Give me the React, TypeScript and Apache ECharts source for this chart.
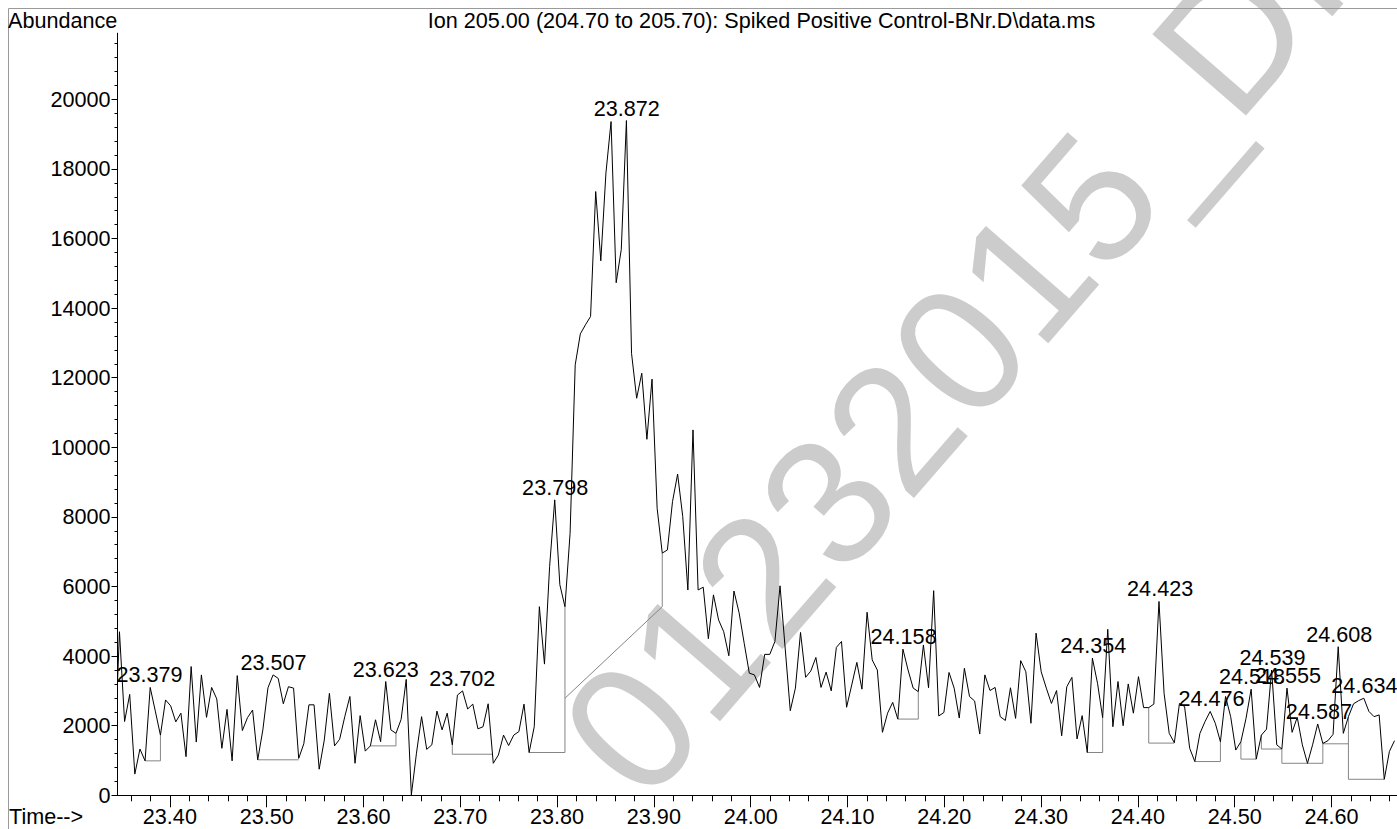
import React, { useEffect, useRef } from "react";
import * as echarts from "echarts";

// ---------- data ----------
// time of the first stored scan (lies just left of the visible axis) and scan spacing, minutes
const firstScanTime = 23.34264;
const scanInterval = 0.00529;

// abundance of every scan
const abundance = [
  900,
  4700, 2120, 2900, 610, 1330, 990, 3100, 2420, 1730, 2740,
  2570, 2110, 2360, 1110, 3700, 1530, 3460, 2240, 3100, 2770,
  1350, 2470, 990, 3440, 1860, 2230, 2450, 1020, 1880, 3090,
  3460, 3360, 2630, 3120, 3080, 1060, 1480, 2600, 2600, 750,
  1590,
  2930, 1420, 1610, 2260, 2840, 920, 2290, 1270, 1420, 2170,
  1540, 3270, 1880, 1780, 2180, 3330, 10, 1210, 2260, 1320,
  1450, 2420, 1880, 2360, 1450, 2880, 3000, 2480, 2620, 1910,
  1970, 2630, 920, 1160, 1730, 1430, 1730, 1830, 2620, 1230,
  1970,
  5420, 3770, 6570, 8490, 6050, 5420, 7530, 12370, 13260, 13520,
  13760, 17350, 15360, 17880, 19360, 14730, 15690, 19390, 12700, 11410,
  12130, 10230, 11960, 8250, 6960, 7050, 8440, 9230, 8010, 5900,
  10500, 5900, 5980, 4500, 5760, 5040, 4700, 4010, 5870, 5250,
  4370, 3510, 3460, 3100, 4050, 4050, 4420, 6020, 4230, 2430,
  3080, 4680, 3390, 3570, 3960, 3100, 3540, 3000, 4250, 4420,
  2530, 3170, 3820, 3050, 5260, 3890, 3600, 1810, 2360, 2670,
  2190, 4200, 3600, 3080, 2980, 4320, 3090, 5880, 2280, 2380,
  3530, 3080, 2220,
  3650, 2840, 2710, 1760, 3460, 3010, 3100, 2260, 2150, 3090,
  2210, 3870, 3550, 2070, 4660, 3550, 3080, 2640, 3010, 1710,
  3120, 3390, 1620, 2290, 1230, 3940, 3220, 2230, 4770, 1970,
  3270, 2000, 3200, 2360, 3410, 2520, 2520, 2620, 5570,
  2930, 1780, 1510, 2640, 2550, 1350, 970, 1780, 2120, 2410,
  2070, 1540, 2840, 2260, 1300, 1540, 2210, 3050, 1040, 1730,
  1900, 3600, 1450, 1330, 3080, 1810, 2240, 1450, 920, 1450,
  2050, 1490, 1570, 1750, 4270, 1780, 2260, 2630, 2720, 2790,
  2410, 2260, 2310, 460, 1260, 1570,
];

// integration baselines: [scan index, abundance] vertices
const baselines: number[][][] = [
  [[6, 990], [9, 990], [9, 1730]],
  [[28, 1020], [36, 1020]],
  [[50, 1420], [55, 1420], [55, 1780]],
  [[66, 1450], [66, 1180], [73.85, 1180]],
  [[81, 1230], [88, 1230], [88, 5420]],
  [[88, 2790], [107, 5420], [107, 6960]],
  [[153, 2190], [157, 2190], [157, 2980]],
  [[190, 1230], [193, 1230], [193, 2230]],
  [[202, 2520], [202, 1500], [207, 1500]],
  [[211, 970], [216, 970], [216, 1540]],
  [[220, 1540], [220, 1040], [223, 1040]],
  [[224, 1730], [224, 1330], [228, 1330]],
  [[228, 1330], [228, 920], [236, 920], [236, 1490]],
  [[236, 1480], [241, 1480]],
  [[241, 2260], [241, 460], [248, 460]],
];

// peak retention-time labels and the scan of each apex
const peakLabels = [
  "23.379", "23.507", "23.623", "23.702", "23.798", "23.872", "24.158", "24.354",
  "24.423", "24.476", "24.518", "24.539", "24.555", "24.587", "24.608", "24.634",
];
const peakScans = [7, 31, 53, 68, 86, 100, 154, 191, 204, 214, 222, 226, 229, 235, 239, 244];

// axes
const timeMin = 23.3459;
const timeMax = 24.6677;
const timeTicks = [23.4, 23.5, 23.6, 23.7, 23.8, 23.9, 24.0, 24.1, 24.2, 24.3, 24.4, 24.5, 24.6];
const abundanceMax = 21900;
const abundanceTicks = [0, 2000, 4000, 6000, 8000, 10000, 12000, 14000, 16000, 18000, 20000];

const titleText = "Ion 205.00 (204.70 to 205.70): Spiked Positive Control-BNr.D\\data.ms";
const yAxisTitle = "Abundance";
const xAxisTitle = "Time-->";
const watermarkText = "01232015_DI";

const FONT = '"Liberation Sans", Arial, Helvetica, sans-serif';
const FS = 21.6;
const INK = "#000";

const scanTime = (i: number) => firstScanTime + i * scanInterval;

export default function App() {
  const ref = useRef<HTMLDivElement>(null);

  useEffect(() => {
    if (!ref.current) return;
    const chart = echarts.init(ref.current, undefined, { renderer: "svg" });

    const minorTimeTicks: number[] = [];
    for (let k = 1168; k <= 1233; k++) {
      if (k % 5 !== 0) minorTimeTicks.push(+(k * 0.02).toFixed(2));
    }
    const minorAbundanceTicks: number[] = [];
    for (let v = 400; v <= 21600; v += 400) {
      if (v % 2000 !== 0) minorAbundanceTicks.push(v);
    }

    const trace = abundance.map((v, i) => [scanTime(i), v]);

    const baselineSeries = baselines.map((seg) => ({
      type: "line",
      data: seg.map(([s, v]) => [scanTime(s), v]),
      showSymbol: false,
      symbol: "none",
      silent: true,
      lineStyle: { color: "#858585", width: 1 },
      z: 2,
    }));

    const rot = (49 * Math.PI) / 180;

    const option: any = {
      animation: false,
      backgroundColor: "#ffffff",
      textStyle: { fontFamily: FONT },
      grid: {
        left: 117.5,
        right: 0,
        top: 33.2,
        bottom: 33.7,
        containLabel: false,
        outerBoundsMode: "none",
      },
      xAxis: [
        {
          type: "value",
          min: timeMin,
          max: timeMax,
          position: "bottom",
          axisLine: { show: true, onZero: false, lineStyle: { color: INK, width: 1 } },
          axisTick: { show: true, length: 12, customValues: timeTicks, lineStyle: { color: INK } },
          axisLabel: {
            show: true,
            customValues: timeTicks,
            formatter: (v: number) => v.toFixed(2),
            margin: 12.5,
            fontSize: FS,
            lineHeight: 17,
            color: INK,
            fontFamily: FONT,
          },
          splitLine: { show: false },
        },
        {
          type: "value",
          min: timeMin,
          max: timeMax,
          position: "bottom",
          axisLine: { show: false },
          axisTick: { show: true, length: 6, customValues: minorTimeTicks, lineStyle: { color: INK } },
          axisLabel: { show: false },
          splitLine: { show: false },
        },
      ],
      yAxis: [
        {
          type: "value",
          min: 0,
          max: abundanceMax,
          position: "left",
          axisLine: { show: true, onZero: false, lineStyle: { color: INK, width: 1 } },
          axisTick: { show: true, length: 6, customValues: abundanceTicks, lineStyle: { color: INK } },
          axisLabel: {
            show: true,
            customValues: abundanceTicks,
            formatter: (v: number) => String(v),
            margin: 7,
            fontSize: FS,
            color: INK,
            fontFamily: FONT,
          },
          splitLine: { show: false },
        },
        {
          type: "value",
          min: 0,
          max: abundanceMax,
          position: "left",
          axisLine: { show: false },
          axisTick: { show: true, length: 3, customValues: minorAbundanceTicks, lineStyle: { color: INK } },
          axisLabel: { show: false },
          splitLine: { show: false },
        },
      ],
      graphic: [
        {
          type: "text",
          x: 666,
          y: 825,
          rotation: rot,
          silent: true,
          z: -10,
          style: {
            text: watermarkText,
            fontSize: 180,
            fontFamily: FONT,
            fill: "#cccccc",
            align: "left",
            verticalAlign: "bottom",
          },
        },
        {
          type: "line",
          silent: true,
          shape: { x1: 8.5, y1: 8.5, x2: 8.5, y2: 829 },
          style: { stroke: "#9a9a9a", lineWidth: 1 },
        },
        {
          type: "line",
          silent: true,
          shape: { x1: 8.5, y1: 8.5, x2: 1397, y2: 8.5 },
          style: { stroke: "#9a9a9a", lineWidth: 1 },
        },
        {
          type: "text",
          x: 8,
          y: 20.3,
          silent: true,
          style: { text: yAxisTitle, fontSize: FS, fontFamily: FONT, fill: INK, align: "left", verticalAlign: "middle" },
        },
        {
          type: "text",
          x: 761.5,
          y: 20.3,
          silent: true,
          style: { text: titleText, fontSize: FS, fontFamily: FONT, fill: INK, align: "center", verticalAlign: "middle" },
        },
        {
          type: "text",
          x: 9,
          y: 816.5,
          silent: true,
          style: {
            text: xAxisTitle,
            fontSize: FS,
            lineHeight: 17,
            fontFamily: FONT,
            fill: INK,
            align: "left",
            verticalAlign: "middle",
          },
        },
      ],
      series: [
        {
          type: "line",
          data: trace,
          showSymbol: false,
          symbol: "none",
          silent: true,
          clip: true,
          lineStyle: { color: "#000", width: 1 },
          z: 3,
        },
        ...baselineSeries,
        {
          type: "scatter",
          silent: true,
          symbolSize: 1,
          itemStyle: { color: "rgba(0,0,0,0)" },
          data: peakLabels.map((lab, i) => ({
            value: [Number(lab), abundance[peakScans[i]]],
            label: { formatter: lab },
          })),
          label: {
            show: true,
            position: "top",
            distance: 1,
            fontSize: FS,
            color: INK,
            opacity: 1,
            fontFamily: FONT,
          },
          z: 4,
        },
      ],
    };

    chart.setOption(option);
    return () => chart.dispose();
  }, []);

  return (
    <div
      ref={ref}
      style={{ position: "fixed", left: 0, top: 0, width: 1397, height: 829, background: "#fff" }}
    />
  );
}
